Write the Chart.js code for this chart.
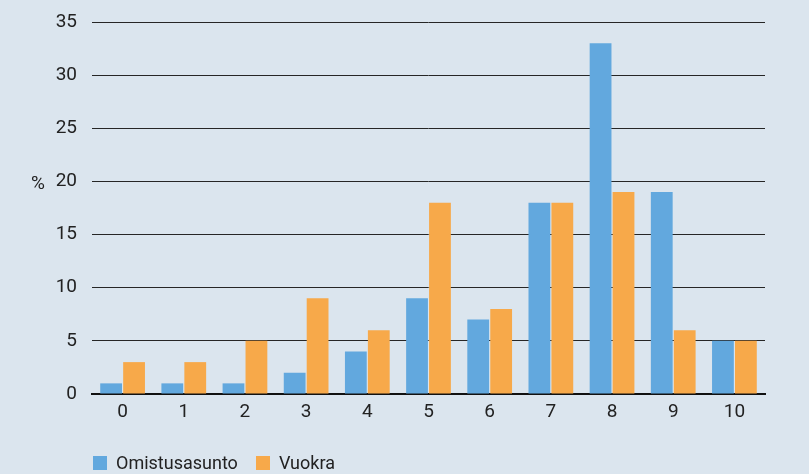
<!DOCTYPE html>
<html lang="fi">
<head>
    <meta charset="UTF-8">
    <title>Omistusasunto ja vuokra</title>
    <script src="https://cdn.jsdelivr.net/npm/chart.js"></script>
    <style>
        body {
            margin: 0;
            background-color: #dbe5ee;
            font-family: Roboto, sans-serif;
            color: #222;
        }
        #wrap {
            position: relative;
            width: 809px;
            height: 474px;
        }
        #yTitle {
            position: absolute;
            left: 31px;
            top: 171px;
            font-size: 19px;
        }
        #legend {
            position: absolute;
            left: 93px;
            top: 452px;
            font-size: 18px;
            display: flex;
            align-items: center;
        }
        .item { display: flex; align-items: center; margin-right: 18px; }
        .box { width: 14px; height: 14px; margin-right: 9px; }
    </style>
</head>
<body>
<div id="wrap">
    <canvas id="barChart" width="809" height="474"></canvas>
    <div id="yTitle">%</div>
    <div id="legend">
        <div class="item"><span class="box" style="background:#62a8de"></span>Omistusasunto</div>
        <div class="item"><span class="box" style="background:#f7a94a"></span>Vuokra</div>
    </div>
</div>
<script>
    // Values (%)
    const categories = ["0", "1", "2", "3", "4", "5", "6", "7", "8", "9", "10"];
    const omistusasunto = [1, 1, 1, 2, 4, 9, 7, 18, 33, 19, 5];
    const vuokra = [3, 3, 5, 9, 6, 18, 8, 18, 19, 6, 5];

    const tickFont = { family: 'Roboto, sans-serif', size: 19 };

    new Chart(document.getElementById('barChart'), {
        type: 'bar',
        data: {
            labels: categories,
            datasets: [
                { label: 'Omistusasunto', data: omistusasunto, backgroundColor: '#62a8de' },
                { label: 'Vuokra', data: vuokra, backgroundColor: '#f7a94a' }
            ]
        },
        options: {
            responsive: false,
            animation: false,
            categoryPercentage: 0.75,
            barPercentage: 0.95,
            layout: { padding: { top: 22, right: 44, left: 0, bottom: 0 } },
            plugins: {
                legend: { display: false },
                tooltip: { enabled: false }
            },
            scales: {
                x: {
                    grid: { display: false, drawTicks: false },
                    border: { color: '#111', width: 2 },
                    ticks: { color: '#222', padding: 7, font: tickFont },
                    afterFit: function(scale) { scale.height = 80; }
                },
                y: {
                    min: 0,
                    max: 35,
                    ticks: { stepSize: 5, color: '#222', padding: 15, font: tickFont },
                    grid: { color: '#262626', lineWidth: 1, drawTicks: false },
                    border: { display: false },
                    afterFit: function(scale) {
                        scale.width = 92;
                        scale.paddingTop = 0;
                        scale.paddingBottom = 0;
                    }
                }
            }
        }
    });
</script>
</body>
</html>
